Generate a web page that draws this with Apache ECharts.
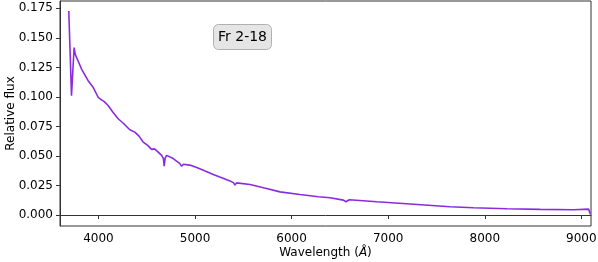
<!DOCTYPE html>
<html>
<head>
<meta charset="utf-8">
<script src="https://cdn.jsdelivr.net/npm/echarts@6/dist/echarts.min.js"></script>
<style>html,body{margin:0;padding:0;background:#fff}#c{width:598px;height:262px}</style>
</head>
<body>
<div id="c"></div>
<script>
const wavelength = [3693, 3721, 3748, 3760, 3773, 3825, 3893, 3945, 3997, 4032, 4060, 4100, 4150, 4204, 4260, 4325, 4377, 4420, 4463, 4510, 4550, 4580, 4619, 4654, 4672, 4681, 4690, 4706, 4774, 4843, 4861, 4880, 4895, 4960, 5017, 5068, 5189, 5290, 5362, 5400, 5413, 5430, 5448, 5569, 5720, 5880, 6087, 6277, 6398, 6536, 6564, 6598, 6882, 7227, 7641, 7883, 8229, 8574, 8919, 9075, 9093];
const flux = [0.1727, 0.1010, 0.1418, 0.1360, 0.1348, 0.1236, 0.1137, 0.1081, 0.0997, 0.0975, 0.0960, 0.0927, 0.0870, 0.0815, 0.0775, 0.0722, 0.0702, 0.0668, 0.0618, 0.0590, 0.0556, 0.0560, 0.0533, 0.0505, 0.0480, 0.0413, 0.0480, 0.0505, 0.0478, 0.0435, 0.0413, 0.0430, 0.0435, 0.0420, 0.0402, 0.0385, 0.0343, 0.0312, 0.0289, 0.0272, 0.0253, 0.0272, 0.0275, 0.0259, 0.0228, 0.0196, 0.0174, 0.0154, 0.0146, 0.0126, 0.0112, 0.0129, 0.0112, 0.0093, 0.0070, 0.0062, 0.0053, 0.0048, 0.0045, 0.0050, 0.0006];
const xTicks = [4000, 5000, 6000, 7000, 8000, 9000];
const yTicks = [0, 0.025, 0.05, 0.075, 0.1, 0.125, 0.15, 0.175];
const label = 'Fr 2-18';

const font = 'DejaVu Sans';
const chart = echarts.init(document.getElementById('c'), null, {renderer: 'canvas'});
chart.setOption({
  animation: false,
  title: {
    text: label, left: 213, top: 24,
    backgroundColor: 'rgba(225,225,225,0.85)', borderColor: '#b0b0b0', borderWidth: 1, borderRadius: 5,
    padding: [5, 5],
    textStyle: {fontFamily: font, fontSize: 14, fontWeight: 'normal', color: '#000', lineHeight: 16}
  },
  grid: {left: 60, right: 7, top: 1, bottom: 36, show: true, borderColor: '#333', borderWidth: 1,
    containLabel: false, outerBoundsMode: 'none'},
  xAxis: {
    type: 'value', min: 3602, max: 9100,
    name: 'Wavelength ({i|Å})', nameLocation: 'middle', nameGap: 21, nameMoveOverlap: false,
    nameTextStyle: {fontFamily: font, fontSize: 12, color: '#000', rich: {i: {fontFamily: font, fontStyle: 'italic', fontSize: 12}}},
    axisLine: {show: true, lineStyle: {color: '#333'}},
    axisTick: {show: true, length: 4, customValues: xTicks, lineStyle: {color: '#333'}},
    axisLabel: {customValues: xTicks, fontFamily: font, fontSize: 12, color: '#000', margin: 7,
      formatter: v => String(v)},
    splitLine: {show: false}
  },
  yAxis: {
    type: 'value', min: -0.0093, max: 0.1812,
    name: 'Relative flux', nameLocation: 'middle', nameGap: 43, nameRotate: 90, nameMoveOverlap: false,
    nameTextStyle: {fontFamily: font, fontSize: 12, color: '#000'},
    axisLine: {show: true, lineStyle: {color: '#333'}},
    axisTick: {show: true, length: 4, customValues: yTicks, lineStyle: {color: '#333'}},
    axisLabel: {customValues: yTicks, fontFamily: font, fontSize: 12, color: '#000', margin: 7,
      formatter: v => v.toFixed(3)},
    splitLine: {show: false}
  },
  series: [{
    type: 'line', showSymbol: false,
    data: wavelength.map((w, i) => [w, flux[i]]),
    lineStyle: {color: '#8a2be2', width: 1.6},
    itemStyle: {color: '#8a2be2'}
  }]
});
</script>
</body>
</html>
